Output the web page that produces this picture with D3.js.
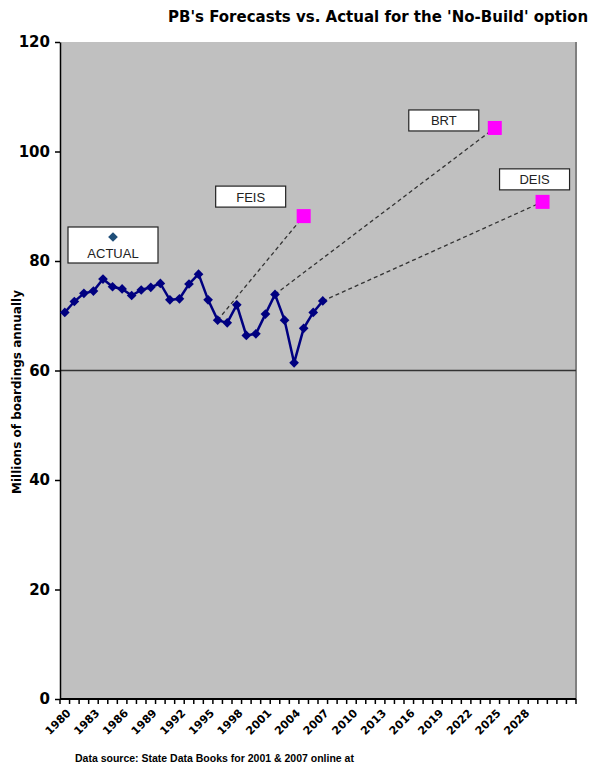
<!DOCTYPE html>
<html>
<head>
<meta charset="utf-8">
<script src="https://cdn.jsdelivr.net/npm/d3@7/dist/d3.min.js"></script>
<style>
    body { margin: 0; background: #fff; }
    svg { display: block; font-family: 'Liberation Sans', Arial, sans-serif; }
    .heavy { font-family: 'DejaVu Sans', sans-serif; font-weight: bold; }
</style>
</head>
<body>
<svg id="chart" width="595" height="767"></svg>
<script>
// Data
const years = d3.range(1980, 2034); // category axis
const labelYears = [1980, 1983, 1986, 1989, 1992, 1995, 1998, 2001, 2004, 2007, 2010, 2013, 2016, 2019, 2022, 2025, 2028];
const actualYears = d3.range(1980, 2008);
const actualValues = [70.6, 72.6, 74.1, 74.5, 76.7, 75.3, 74.9, 73.7, 74.7, 75.2, 75.9, 72.9, 73.1, 75.8, 77.6,
    72.9, 69.2, 68.7, 72.0, 66.4, 66.7, 70.3, 73.9, 69.2, 61.4, 67.7, 70.6, 72.7];
const forecastNames = ['FEIS', 'BRT', 'DEIS'];
const forecastFrom = [1996, 2002, 2007];
const forecastYears = [2005, 2025, 2030];
const forecastValues = [88.2, 104.3, 90.8];
const yTicks = [0, 20, 40, 60, 80, 100, 120];

/**
 * Visual configs.
 */
const margin = { top: 42, right: 19, bottom: 68, left: 60 },
    width = 595 - margin.left - margin.right,
    height = 767 - margin.top - margin.bottom;

const svg = d3.select('#chart');

const x = d3.scaleBand().domain(years).range([0, width]);
const cx = d => x(d) + x.bandwidth() / 2;
const y = d3.scaleLinear().domain([0, 120]).range([height, 0]);

// Title
svg.append('text').attr('class', 'heavy')
    .attr('x', 168).attr('y', 22)
    .attr('font-size', 15)
    .text("PB's Forecasts vs. Actual for the 'No-Build' option");

const g = svg.append('g').attr('transform', 'translate(' + margin.left + ',' + margin.top + ')');

// Plot area
g.append('rect')
    .attr('width', width).attr('height', height)
    .attr('fill', '#c0c0c0');
g.append('line')
    .attr('x1', width).attr('x2', width).attr('y1', 0).attr('y2', height)
    .attr('stroke', '#808080').attr('stroke-width', 2);

// Line at 60
g.append('line')
    .attr('x1', 0).attr('x2', width)
    .attr('y1', y(60)).attr('y2', y(60))
    .attr('stroke', '#333').attr('stroke-width', 1.5);

// Y axis
const yAxisG = g.append('g')
    .call(d3.axisLeft(y).tickValues(yTicks).tickSize(5).tickSizeOuter(0).tickPadding(5));
yAxisG.select('.domain').attr('stroke', '#000').attr('stroke-width', 1.5);
yAxisG.selectAll('.tick line').attr('stroke', '#000').attr('stroke-width', 1.5);
yAxisG.selectAll('.tick text')
    .attr('class', 'heavy')
    .attr('font-size', 15)
    .attr('font-family', null).attr('fill', '#000');

// X axis: line, ticks between categories, rotated labels
const xAxisG = g.append('g').attr('transform', 'translate(0,' + height + ')');
xAxisG.append('line')
    .attr('x1', 0).attr('x2', width)
    .attr('stroke', '#000').attr('stroke-width', 2);
xAxisG.selectAll('.xtick').data(years.concat([null]))
    .join('line').attr('class', 'xtick')
    .attr('x1', d => d === null ? width : x(d))
    .attr('x2', d => d === null ? width : x(d))
    .attr('y1', 0).attr('y2', 5)
    .attr('stroke', '#000').attr('stroke-width', 1.5);
xAxisG.selectAll('.xlabel').data(labelYears)
    .join('text').attr('class', 'xlabel heavy')
    .attr('transform', d => 'translate(' + (cx(d) + 4) + ',12) rotate(-45)')
    .attr('text-anchor', 'end')
    .attr('dy', '0.35em')
    .attr('font-size', 11)
    .text(d => d);

// Y axis title
svg.append('text').attr('class', 'heavy')
    .attr('transform', 'translate(21,392) rotate(-90)')
    .attr('text-anchor', 'middle')
    .attr('font-size', 12)
    .text('Millions of boardings annually');

// Dashed forecast lines
const actualAt = yr => actualValues[actualYears.indexOf(yr)];
g.selectAll('.forecast-line').data(forecastNames)
    .join('line').attr('class', 'forecast-line')
    .attr('x1', (d, i) => cx(forecastFrom[i]))
    .attr('y1', (d, i) => y(actualAt(forecastFrom[i])))
    .attr('x2', (d, i) => cx(forecastYears[i]))
    .attr('y2', (d, i) => y(forecastValues[i]))
    .attr('stroke', '#333').attr('stroke-width', 1.3)
    .attr('stroke-dasharray', '4,3');

// Actual series
const line = d3.line()
    .x((d, i) => cx(actualYears[i]))
    .y(d => y(d));
g.append('path')
    .datum(actualValues)
    .attr('d', line)
    .attr('fill', 'none')
    .attr('stroke', '#000080')
    .attr('stroke-width', 2.5);
const diamond = d3.symbol().type(d3.symbolDiamond2).size(60);
g.selectAll('.pt').data(actualValues)
    .join('path').attr('class', 'pt')
    .attr('transform', (d, i) => 'translate(' + cx(actualYears[i]) + ',' + y(d) + ')')
    .attr('d', diamond)
    .attr('fill', '#000080');

// Forecast markers
g.selectAll('.fc').data(forecastNames)
    .join('rect').attr('class', 'fc')
    .attr('x', (d, i) => cx(forecastYears[i]) - 7)
    .attr('y', (d, i) => y(forecastValues[i]) - 7)
    .attr('width', 14).attr('height', 14)
    .attr('fill', '#ff00ff');

// Forecast label boxes, placed relative to their markers
const boxOffsets = [[-88, -30], [-86, -18], [-43, -33]];
const boxes = g.selectAll('.fbox').data(forecastNames)
    .join('g').attr('class', 'fbox')
    .attr('transform', (d, i) => 'translate(' + (cx(forecastYears[i]) + boxOffsets[i][0]) + ',' +
        (y(forecastValues[i]) + boxOffsets[i][1]) + ')');
boxes.append('rect')
    .attr('width', 70).attr('height', 21)
    .attr('fill', '#fff').attr('stroke', '#222').attr('stroke-width', 1.2);
boxes.append('text')
    .attr('x', 35).attr('y', 15.5)
    .attr('text-anchor', 'middle')
    .attr('font-size', 13).attr('fill', '#222')
    .text(d => d);

// Legend
const legend = g.append('g').attr('transform', 'translate(8,185)');
legend.append('rect')
    .attr('width', 90).attr('height', 36)
    .attr('fill', '#fff').attr('stroke', '#222').attr('stroke-width', 1.2);
legend.append('path')
    .attr('transform', 'translate(45,10)')
    .attr('d', d3.symbol().type(d3.symbolDiamond2).size(60))
    .attr('fill', '#1f4e79');
legend.append('text')
    .attr('x', 45).attr('y', 31)
    .attr('text-anchor', 'middle')
    .attr('font-size', 13).attr('fill', '#222')
    .text('ACTUAL');

// Source note
svg.append('text')
    .attr('x', 75).attr('y', 762)
    .attr('font-size', 10.5).attr('font-weight', 'bold')
    .text('Data source: State Data Books for 2001 & 2007 online at');
</script>
</body>
</html>
